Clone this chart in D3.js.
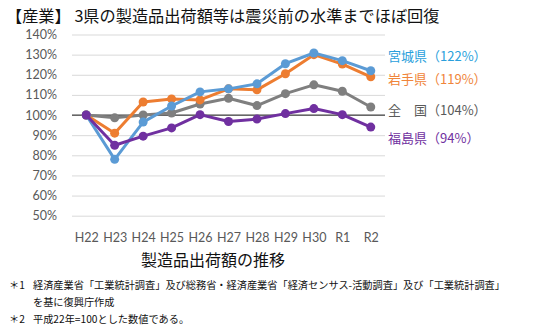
<!DOCTYPE html>
<html lang="ja">
<head>
<meta charset="utf-8">
<script src="https://cdn.jsdelivr.net/npm/d3@7"></script>
<style>
  html, body { margin: 0; padding: 0; background: #fff; }
  svg { display: block; }
  .jp { font-family: "Noto Sans CJK JP", "Noto Sans", sans-serif; }
  .num { font-family: Lato, "Noto Sans", sans-serif; }
</style>
</head>
<body>
<svg id="chart" width="536" height="331"></svg>
<script>
// Fiscal years (H = Heisei, R = Reiwa)
const categories = ["H22", "H23", "H24", "H25", "H26", "H27", "H28", "H29", "H30", "R1", "R2"];

// Manufactured goods shipment value index, H22 = 100
const miyagi    = [100, 78, 96.5, 104.5, 111.5, 113, 115.5, 125.5, 130.8, 127, 122];
const iwate     = [100, 91, 106.5, 108, 107.5, 113, 112.5, 120.5, 130, 125.3, 119];
const zenkoku   = [100, 98.6, 100, 101, 105.5, 108.3, 104.7, 110.6, 115, 111.8, 104];
const fukushima = [100, 85, 89.5, 93.6, 100.2, 96.8, 98, 100.7, 103.2, 100.2, 94];

const seriesNames  = ["全　国", "岩手県", "宮城県", "福島県"];
const seriesLabels = ["（104%）", "（119%）", "（122%）", "（94%）"];
const yTicks = [50, 60, 70, 80, 90, 100, 110, 120, 130, 140];

const series = [
  { name: seriesNames[0], label: seriesLabels[0], values: zenkoku,   line: "#7f7f7f", text: "#595959", ly: 110 },
  { name: seriesNames[1], label: seriesLabels[1], values: iwate,     line: "#ed7d31", text: "#f0853a", ly: 79.5 },
  { name: seriesNames[2], label: seriesLabels[2], values: miyagi,    line: "#5b9bd5", text: "#2a9fdc", ly: 56 },
  { name: seriesNames[3], label: seriesLabels[3], values: fukushima, line: "#7030a0", text: "#7030a0", ly: 138 }
];

const svg = d3.select("#chart");

const x = d3.scalePoint().domain(categories).range([72, 385]).padding(0.5);
const y = d3.scaleLinear().domain([50, 140]).range([215.7, 34.5]);

// Title
svg.append("text")
  .attr("class", "jp")
  .attr("x", 6).attr("y", 22)
  .attr("font-size", 16.2)
  .attr("fill", "#111")
  .text("【産業】 3県の製造品出荷額等は震災前の水準までほぼ回復");

// Gridlines and y labels
const yAxis = d3.axisLeft(y).tickValues(yTicks).tickSize(-(385 - 72)).tickFormat(d => d + "%");
const gy = svg.append("g").attr("transform", "translate(72,0)").call(yAxis);
gy.select(".domain").remove();
gy.selectAll(".tick line").attr("stroke", "#d9d9d9").attr("stroke-width", 1);
gy.selectAll(".tick text")
  .attr("class", "num")
  .attr("x", -15)
  .attr("font-size", 12.5)
  .attr("fill", "#595959");

// Category axis crossing at 100%
svg.append("line")
  .attr("x1", 72).attr("x2", 385)
  .attr("y1", y(100)).attr("y2", y(100))
  .attr("stroke", "#404040").attr("stroke-width", 1.3);

// Category labels at the bottom
const xAxis = d3.axisBottom(x).tickSize(0).tickPadding(0);
const gx = svg.append("g").attr("transform", "translate(0,233)").call(xAxis);
gx.select(".domain").remove();
gx.selectAll(".tick text")
  .attr("class", "num")
  .attr("font-size", 12.5)
  .attr("fill", "#595959");

// Series lines and markers
const line = d3.line().x((d, i) => x(categories[i])).y(d => y(d));
series.forEach(s => {
  svg.append("path")
    .datum(s.values)
    .attr("d", line)
    .attr("fill", "none")
    .attr("stroke", s.line)
    .attr("stroke-width", 3)
    .attr("stroke-linejoin", "round");
  svg.append("g").selectAll("circle")
    .data(s.values)
    .join("circle")
    .attr("cx", (d, i) => x(categories[i]))
    .attr("cy", d => y(d))
    .attr("r", 4.5)
    .attr("fill", s.line);
});

// End labels
series.forEach(s => {
  svg.append("text")
    .attr("class", "jp")
    .attr("x", 388).attr("y", s.ly)
    .attr("dy", "0.36em")
    .attr("font-size", 13)
    .attr("fill", s.text)
    .text(s.name + s.label);
});

// Chart caption
svg.append("text")
  .attr("class", "jp")
  .attr("x", 213).attr("y", 260)
  .attr("dy", "0.36em")
  .attr("text-anchor", "middle")
  .attr("font-size", 16)
  .attr("fill", "#111")
  .text("製造品出荷額の推移");

// Footnotes
const notes = svg.append("g").attr("class", "jp").attr("font-size", 10.2).attr("fill", "#111");
notes.append("text").attr("x", 9).attr("y", 289).text("＊1");
notes.append("text").attr("x", 33).attr("y", 289)
  .text("経済産業省「工業統計調査」及び総務省・経済産業省「経済センサス-活動調査」及び「工業統計調査」");
notes.append("text").attr("x", 33).attr("y", 306).text("を基に復興庁作成");
notes.append("text").attr("x", 9).attr("y", 323).text("＊2");
notes.append("text").attr("x", 33).attr("y", 323).text("平成22年=100とした数値である。");
</script>
</body>
</html>
